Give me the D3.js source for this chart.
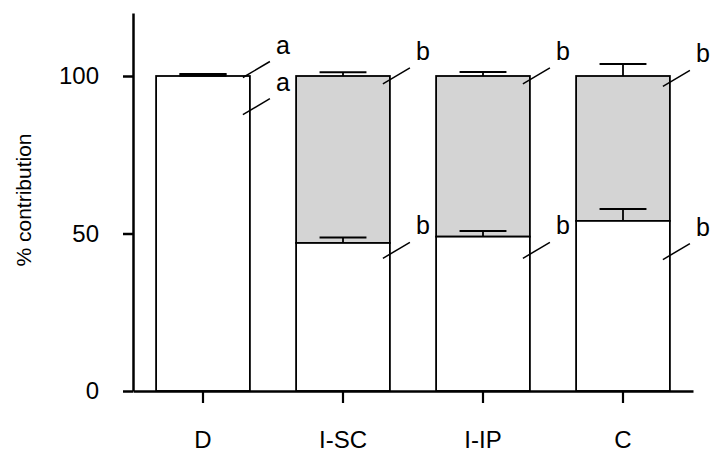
<!DOCTYPE html>
<html>
<head>
<meta charset="utf-8">
<script src="https://cdn.jsdelivr.net/npm/d3@7"></script>
<style>
  html, body { margin: 0; padding: 0; background: #fff; }
  svg { display: block; font-family: "Liberation Sans", Arial, sans-serif; }
</style>
</head>
<body>
<svg id="chart" width="714" height="455"></svg>
<script>
// Groups on the x axis
const groups = ["D", "I-SC", "I-IP", "C"];
// Lower (white) share of the contribution, % and its error
const lowerValues = [100, 47, 49, 54];
const lowerErrors = [0.6, 1.7, 1.8, 3.8];
// Stack totals (grey segment fills up to here) and their errors
const totalValues = [100, 100, 100, 100];
const totalErrors = [0.6, 1.2, 1.3, 3.8];
// Significance letters and the value where each leader line ends
const upperLetters = ["a", "b", "b", "b"];
const upperTagAt = [104.6, 102.6, 102.6, 101.8];
const lowerLetters = ["a", "b", "b", "b"];
const lowerTagAt = [92.8, 47.2, 47.2, 46.8];
// Axis ticks
const yTicks = [0, 50, 100];

const svg = d3.select("#chart");
const margin = { left: 133, right: 21, top: 13, bottom: 64 };
const W = 714, H = 455;

const x = d3.scaleBand()
  .domain(groups)
  .range([margin.left, W - margin.right])
  .paddingInner(0.33)
  .paddingOuter(0.165);

const y = d3.scaleLinear()
  .domain([0, 120])
  .range([H - margin.bottom, margin.top]);

const rows = groups.map((g, i) => ({
  g,
  lower: lowerValues[i], lowerErr: lowerErrors[i],
  total: totalValues[i], totalErr: totalErrors[i],
  up: upperLetters[i], upAt: upperTagAt[i],
  lo: lowerLetters[i], loAt: lowerTagAt[i]
}));

const bars = svg.append("g");

// Grey upper segment
bars.selectAll("rect.upper")
  .data(rows.filter(d => d.total > d.lower))
  .join("rect")
  .attr("class", "upper")
  .attr("x", d => x(d.g))
  .attr("width", x.bandwidth())
  .attr("y", d => y(d.total))
  .attr("height", d => y(d.lower) - y(d.total))
  .attr("fill", "#d4d4d4")
  .attr("stroke", "#000")
  .attr("stroke-width", 1.8);

// Error bars on the totals
const errG = svg.append("g").attr("stroke", "#000");
rows.forEach(d => {
  const cx = x(d.g) + x.bandwidth() / 2;
  const half = x.bandwidth() / 4;
  errG.append("line")
    .attr("x1", cx).attr("x2", cx)
    .attr("y1", y(d.total)).attr("y2", y(d.total + d.totalErr))
    .attr("stroke-width", 1.8);
  errG.append("line")
    .attr("x1", cx - half).attr("x2", cx + half)
    .attr("y1", y(d.total + d.totalErr)).attr("y2", y(d.total + d.totalErr))
    .attr("stroke-width", 2);
});

// White lower segment
bars.append("g").selectAll("rect")
  .data(rows)
  .join("rect")
  .attr("x", d => x(d.g))
  .attr("width", x.bandwidth())
  .attr("y", d => y(d.lower))
  .attr("height", d => y(0) - y(d.lower))
  .attr("fill", "#fff")
  .attr("stroke", "#000")
  .attr("stroke-width", 1.8);

// Error bars on the lower segment (drawn inside the grey part)
const errL = svg.append("g").attr("stroke", "#000");
rows.filter(d => d.total > d.lower).forEach(d => {
  const cx = x(d.g) + x.bandwidth() / 2;
  const half = x.bandwidth() / 4;
  errL.append("line")
    .attr("x1", cx).attr("x2", cx)
    .attr("y1", y(d.lower)).attr("y2", y(d.lower + d.lowerErr))
    .attr("stroke-width", 1.8);
  errL.append("line")
    .attr("x1", cx - half).attr("x2", cx + half)
    .attr("y1", y(d.lower + d.lowerErr)).attr("y2", y(d.lower + d.lowerErr))
    .attr("stroke-width", 2);
});

// D has no grey part: its cap sits on top of the bar
rows.filter(d => d.total <= d.lower).forEach(d => {
  const cx = x(d.g) + x.bandwidth() / 2;
  const half = x.bandwidth() / 4;
  errL.append("line")
    .attr("x1", cx - half).attr("x2", cx + half)
    .attr("y1", y(d.total + d.totalErr / 2)).attr("y2", y(d.total + d.totalErr / 2))
    .attr("stroke-width", 3.5);
});

// Significance letters with slanted leader lines
const tags = svg.append("g");
function tag(d, letter, at) {
  const xr = x(d.g) + x.bandwidth();
  const ex = xr + 20, ey = y(at);
  tags.append("line")
    .attr("x1", ex - 27).attr("y1", ey + 16)
    .attr("x2", ex).attr("y2", ey)
    .attr("stroke", "#000").attr("stroke-width", 1.5);
  tags.append("text")
    .attr("x", ex + 6).attr("y", ey - 8)
    .attr("font-size", 25)
    .attr("fill", "#000")
    .text(letter);
}
rows.forEach(d => { tag(d, d.up, d.upAt); tag(d, d.lo, d.loAt); });

// Y axis
const yAxis = svg.append("g")
  .attr("transform", `translate(${margin.left},0)`)
  .call(d3.axisLeft(y).tickValues(yTicks).tickSize(10).tickPadding(24).tickSizeOuter(0));
yAxis.select(".domain").attr("stroke-width", 2.5);
yAxis.selectAll(".tick line").attr("stroke-width", 2.5);
yAxis.selectAll(".tick text")
  .attr("font-size", 24)
  .attr("font-family", "Liberation Sans, Arial, sans-serif")
  .attr("fill", "#000");

// X axis
const xAxis = svg.append("g")
  .attr("transform", `translate(0,${y(0)})`)
  .call(d3.axisBottom(x).tickSize(12).tickPadding(28).tickSizeOuter(0));
xAxis.select(".domain").attr("stroke-width", 2.5);
xAxis.selectAll(".tick line").attr("stroke-width", 2.2);
xAxis.selectAll(".tick text")
  .attr("font-size", 24)
  .attr("font-family", "Liberation Sans, Arial, sans-serif")
  .attr("fill", "#000");

// Y axis title
svg.append("text")
  .attr("transform", `translate(31,200) rotate(-90)`)
  .attr("text-anchor", "middle")
  .attr("font-size", 21)
  .attr("fill", "#000")
  .text("% contribution");
</script>
</body>
</html>
